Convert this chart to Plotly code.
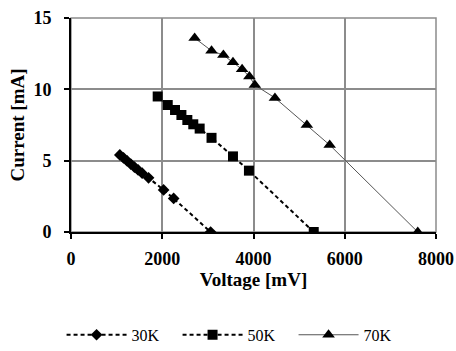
import plotly.graph_objects as go

v30 = [1070, 1150, 1230, 1310, 1390, 1470, 1560, 1700, 2030, 2250, 3060]
i30 = [5.4, 5.2, 4.98, 4.76, 4.55, 4.35, 4.12, 3.8, 2.95, 2.35, 0]

v50 = [1900, 2120, 2280, 2420, 2550, 2680, 2820, 3080, 3550, 3900, 5320]
i50 = [9.5, 8.9, 8.55, 8.2, 7.85, 7.55, 7.25, 6.6, 5.3, 4.3, 0]

v70 = [2710, 3080, 3340, 3550, 3750, 3910, 4030, 4470, 5170, 5670, 7600]
i70 = [13.6, 12.7, 12.4, 11.9, 11.4, 10.9, 10.3, 9.4, 7.5, 6.1, 0]

names = ["30K", "50K", "70K"]
x_ticks = [0, 2000, 4000, 6000, 8000]
y_ticks = [0, 5, 10, 15]

FONT = "Liberation Serif"

fig = go.Figure()
fig.add_trace(go.Scatter(x=v30, y=i30, name=names[0], mode="lines+markers",
                         line=dict(color="black", width=2, dash="4px,3px"),
                         marker=dict(symbol="diamond", size=9, color="black")))
fig.add_trace(go.Scatter(x=v50, y=i50, name=names[1], mode="lines+markers",
                         line=dict(color="black", width=2, dash="4px,3px"),
                         marker=dict(symbol="square", size=10, color="black")))
fig.add_trace(go.Scatter(x=v70, y=i70, name=names[2], mode="lines+markers",
                         line=dict(color="#555555", width=1),
                         marker=dict(symbol="triangle-up", size=11, color="black")))

fig.update_layout(
    width=456, height=351,
    margin=dict(l=71, r=20, t=18, b=119),
    paper_bgcolor="white", plot_bgcolor="white",
    font=dict(family=FONT, color="black", size=17),
    showlegend=True,
    legend=dict(orientation="h", xref="container", yref="container",
                x=0.135, xanchor="left", y=0.046, yanchor="middle",
                font=dict(family=FONT, size=16, color="black"),
                itemwidth=60, entrywidth=41, entrywidthmode="pixels", tracegroupgap=0),
    shapes=[dict(type="rect", xref="paper", yref="paper", x0=0, x1=1, y0=0, y1=1,
                 line=dict(color="#8c8c8c", width=1.5), layer="below")],
)
fig.update_xaxes(range=[0, 8000], tickvals=x_ticks, ticktext=["<b>%d</b>" % t for t in x_ticks],
                 automargin=False, ticklabeloverflow="allow",
                 showgrid=True, gridcolor="#8c8c8c", gridwidth=1.5, zeroline=False,
                 showline=True, linecolor="black", linewidth=2,
                 ticks="outside", ticklen=5, tickcolor="black", tickwidth=2,
                 ticklabelstandoff=4,
                 tickfont=dict(family=FONT, size=18, color="black"),
                 title=dict(text="<b>Voltage [mV]</b>", font=dict(family=FONT, size=19), standoff=2))
fig.update_yaxes(range=[0, 15], tickvals=y_ticks, ticktext=["<b>%d</b>" % t for t in y_ticks],
                 automargin=False, ticklabeloverflow="allow",
                 showgrid=True, gridcolor="#8c8c8c", gridwidth=1.5, zeroline=False,
                 showline=True, linecolor="black", linewidth=2,
                 ticks="outside", ticklen=5, tickcolor="black", tickwidth=2,
                 ticklabelstandoff=9,
                 tickfont=dict(family=FONT, size=18, color="black"),
                 title=dict(text="<b>Current [mA]</b>", font=dict(family=FONT, size=19), standoff=4))

fig.write_html("out.html", config={"displayModeBar": False},
               post_script="document.body.style.margin='0';document.body.style.overflow='hidden';")
